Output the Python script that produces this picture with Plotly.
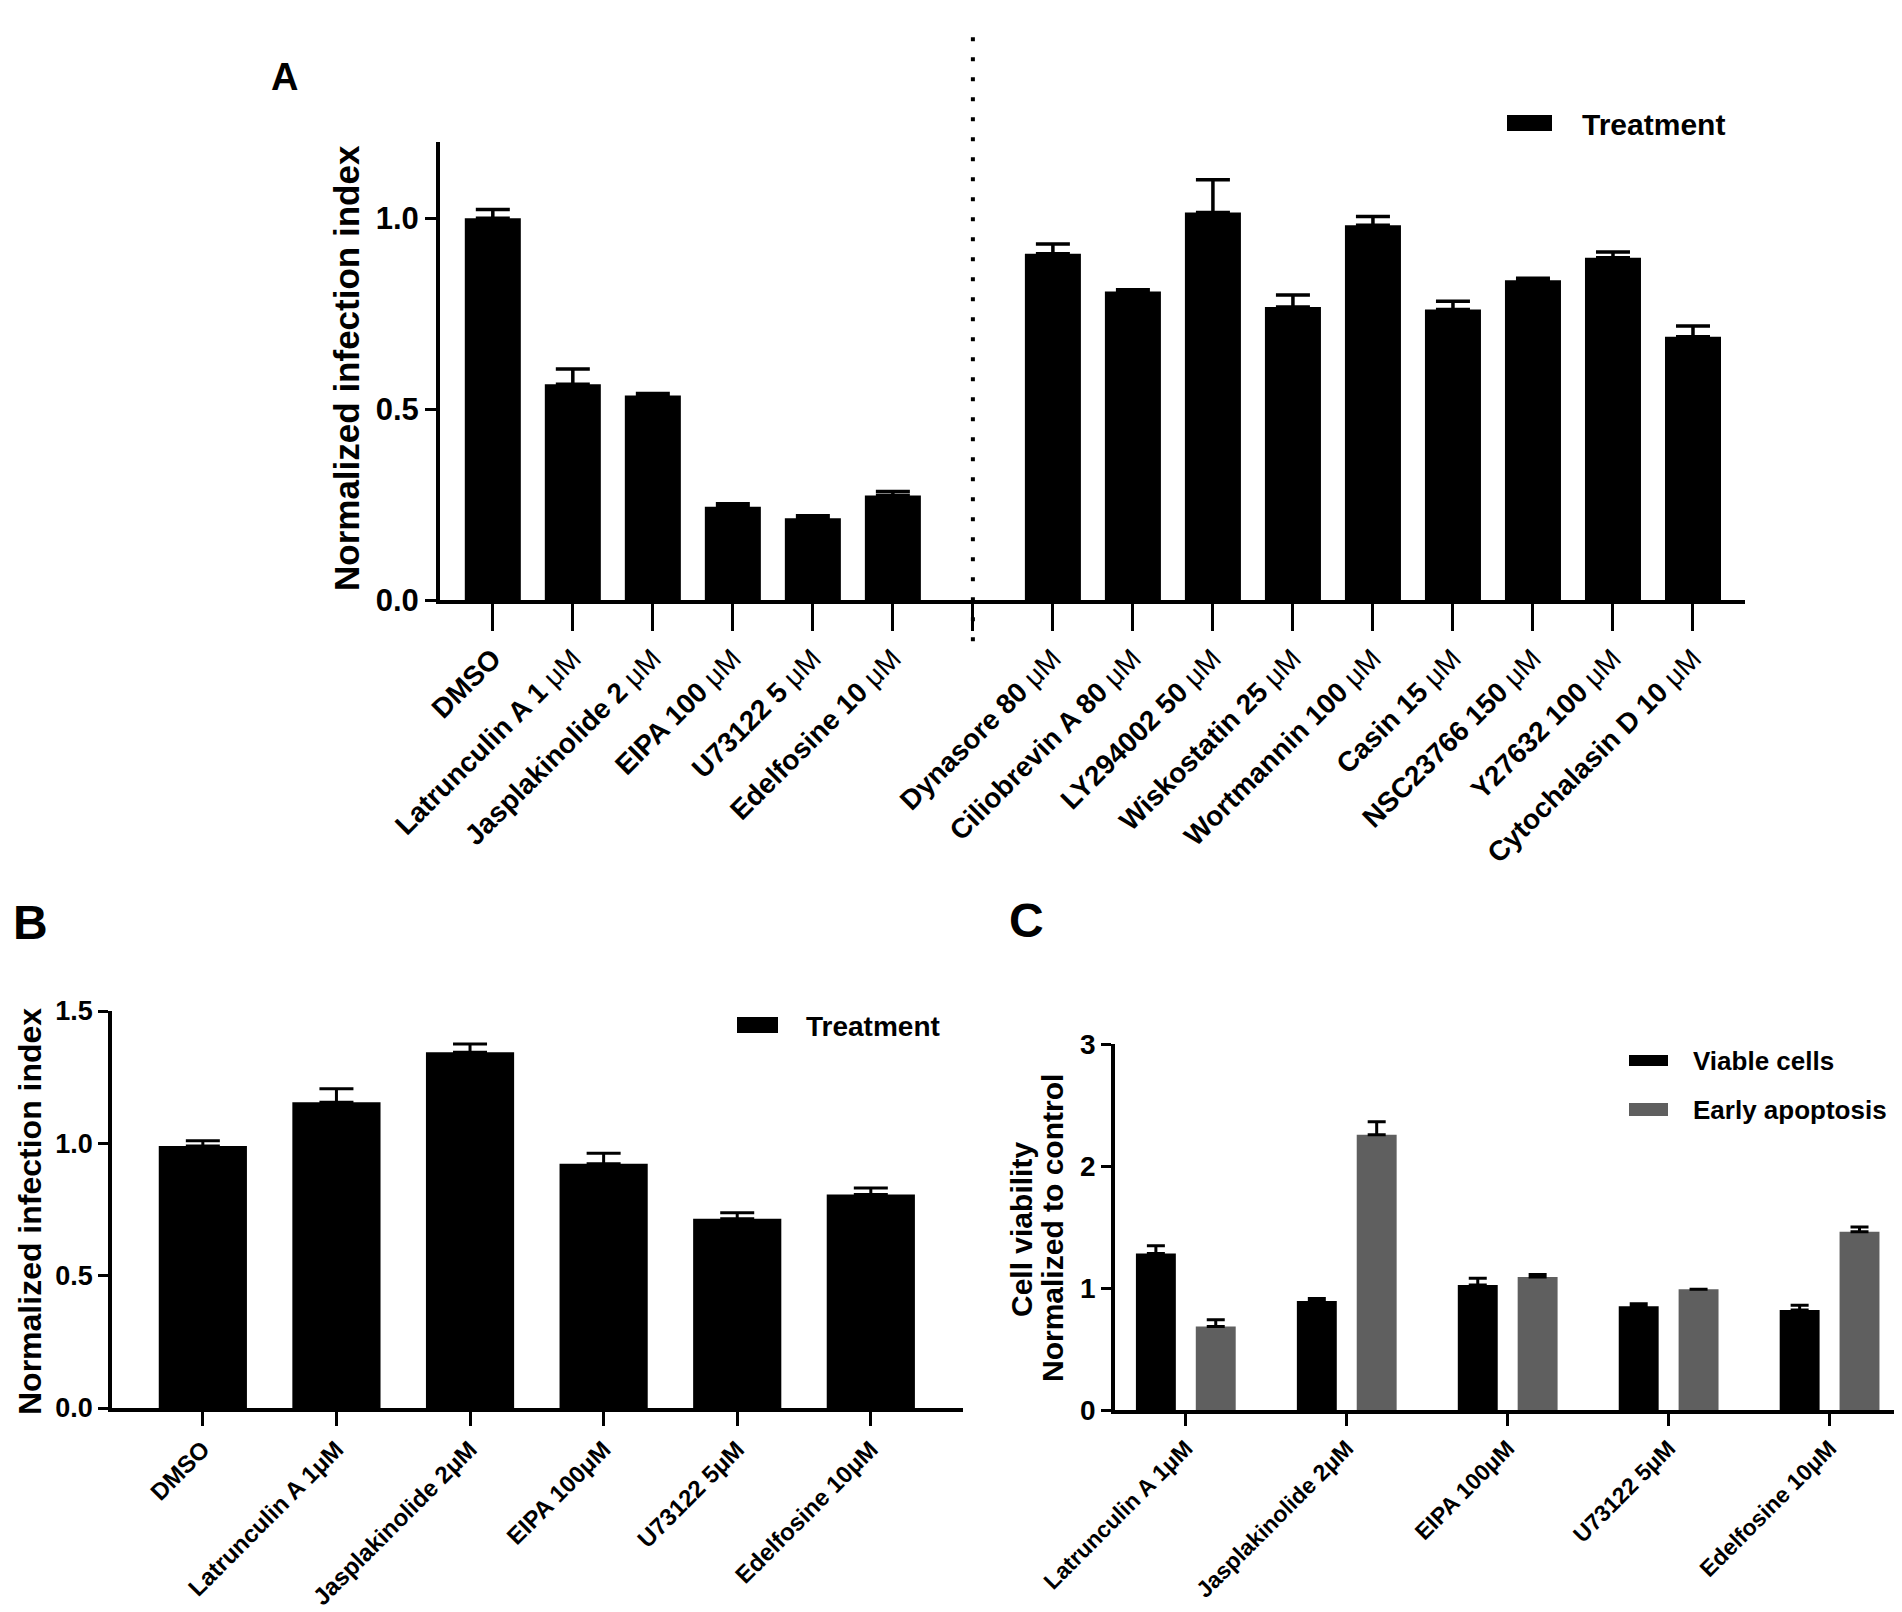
import plotly.graph_objects as go

# ---- data ----
# panel A: infection index after drug treatment (left block / right block)
a_left_drugs = ["DMSO", "Latrunculin A 1 μM", "Jasplakinolide 2 μM", "EIPA 100 μM",
                "U73122 5 μM", "Edelfosine 10 μM"]
a_left_vals = [1.00, 0.565, 0.536, 0.244, 0.214, 0.274]
a_left_err = [0.023, 0.040, 0.005, 0.008, 0.007, 0.010]

a_right_drugs = ["Dynasore 80 μM", "Ciliobrevin A 80 μM", "LY294002 50 μM",
                 "Wiskostatin 25 μM", "Wortmannin 100 μM", "Casin 15 μM",
                 "NSC23766 150 μM", "Y27632 100 μM", "Cytochalasin D 10 μM"]
a_right_vals = [0.907, 0.808, 1.015, 0.768, 0.982, 0.761, 0.838, 0.897, 0.690]
a_right_err = [0.026, 0.005, 0.086, 0.031, 0.023, 0.022, 0.005, 0.015, 0.028]

# panel B
b_drugs = ["DMSO", "Latrunculin A 1μM", "Jasplakinolide 2μM", "EIPA 100μM",
           "U73122 5μM", "Edelfosine 10μM"]
b_vals = [0.990, 1.155, 1.344, 0.923, 0.715, 0.807]
b_err = [0.020, 0.051, 0.031, 0.040, 0.023, 0.024]

# panel C
c_drugs = ["Latrunculin A 1μM", "Jasplakinolide 2μM", "EIPA 100μM", "U73122 5μM",
           "Edelfosine 10μM"]
c_viable = [1.283, 0.894, 1.024, 0.850, 0.819]
c_viable_err = [0.063, 0.019, 0.055, 0.020, 0.039]
c_early = [0.685, 2.256, 1.091, 0.990, 1.461]
c_early_err = [0.055, 0.106, 0.019, 0.0, 0.039]

W, H = 1902, 1612
SANS = "Liberation Sans, Arial, sans-serif"
GRAY = "#5f5f5f"


def px(x):
    return x / W


def py(y):
    return 1 - y / H


def mu_label(s):
    return s.replace("μM", "<span style='font-weight:normal'>μM</span>")


def bold(size):
    return dict(family=SANS, size=size, weight="bold", color="black")


gap = " "
a_cats = a_left_drugs + [gap] + a_right_drugs
a_vals = a_left_vals + [None] + a_right_vals
a_err = a_left_err + [0] + a_right_err
a_text = [mu_label(c) for c in a_left_drugs] + [""] + [mu_label(c) for c in a_right_drugs]

fig = go.Figure()

fig.add_trace(go.Bar(
    x=a_cats, y=a_vals, width=0.7, marker_color="black", marker_line_width=0,
    error_y=dict(type="data", symmetric=False, array=a_err, arrayminus=[0] * len(a_err),
                 color="black", thickness=3.5, width=17),
    xaxis="x", yaxis="y", showlegend=False))

fig.add_trace(go.Bar(
    x=b_drugs, y=b_vals, width=0.66, marker_color="black", marker_line_width=0,
    error_y=dict(type="data", symmetric=False, array=b_err, arrayminus=[0] * len(b_err),
                 color="black", thickness=3, width=17),
    xaxis="x2", yaxis="y2", showlegend=False))

fig.add_trace(go.Bar(
    x=c_drugs, y=c_viable, width=0.248, offset=-0.31, marker_color="black",
    marker_line_width=0,
    error_y=dict(type="data", symmetric=False, array=c_viable_err,
                 arrayminus=[0] * len(c_viable_err), color="black", thickness=3, width=9),
    xaxis="x3", yaxis="y3", showlegend=False))

fig.add_trace(go.Bar(
    x=c_drugs, y=c_early, width=0.248, offset=0.062, marker_color=GRAY,
    marker_line_width=0,
    error_y=dict(type="data", symmetric=False, array=c_early_err,
                 arrayminus=[0] * len(c_early_err), color="black", thickness=3, width=9),
    xaxis="x3", yaxis="y3", showlegend=False))

xcommon = dict(showgrid=False, zeroline=False, showline=True, linecolor="black",
               ticks="outside", tickcolor="black", tickangle=-45, color="black",
               automargin=False)
ycommon = dict(showgrid=False, zeroline=False, showline=True, linecolor="black",
               ticks="outside", tickcolor="black", color="black", automargin=False)

fig.update_layout(
    width=W, height=H,
    margin=dict(l=0, r=0, t=0, b=0, autoexpand=False),
    paper_bgcolor="white", plot_bgcolor="white",
    barmode="overlay",
    xaxis=dict(xcommon, domain=[px(432), px(1737)], anchor="y", type="category",
               range=[-0.66, 15.65], tickvals=a_cats, ticktext=a_text,
               linewidth=4, tickwidth=3, ticklen=27, tickfont=bold(28)),
    yaxis=dict(ycommon, domain=[py(592), py(134)], anchor="x", range=[0, 1.2],
               tickvals=[0, 0.5, 1.0], ticktext=["0.0", "0.5", "1.0"],
               linewidth=4, tickwidth=3, ticklen=11, tickfont=bold(31)),
    xaxis2=dict(xcommon, domain=[px(104), px(955)], anchor="y2", type="category",
                range=[-0.68, 5.69], linewidth=3.5, tickwidth=3, ticklen=14,
                tickfont=bold(24)),
    yaxis2=dict(ycommon, domain=[py(1400), py(1003)], anchor="x2", range=[0, 1.5],
                tickvals=[0, 0.5, 1.0, 1.5], ticktext=["0.0", "0.5", "1.0", "1.5"],
                linewidth=3.5, tickwidth=3, ticklen=10, tickfont=bold(27)),
    xaxis3=dict(xcommon, domain=[px(1107), px(1894)], anchor="y3", type="category",
                range=[-0.44, 4.45], linewidth=3.5, tickwidth=3, ticklen=12,
                tickfont=bold(23)),
    yaxis3=dict(ycommon, domain=[py(1402), py(1036)], anchor="x3", range=[0, 3],
                tickvals=[0, 1, 2, 3], linewidth=3.5, tickwidth=3, ticklen=10,
                tickfont=bold(28)),
)

# dotted divider between the two drug groups in panel A
fig.add_shape(type="line", xref="x", yref="y domain",
              x0=len(a_left_drugs), x1=len(a_left_drugs), y0=-0.09, y1=1.25,
              line=dict(color="black", width=4, dash="4px,16px"))

# legend keys
legend_keys = [
    (1499, 1544, 107, 123, "black", "Treatment", 1572, 116, 30),
    (729, 770, 1009, 1025, "black", "Treatment", 796, 1018, 28),
    (1621, 1660, 1047, 1058, "black", "Viable cells", 1683, 1053, 26),
    (1621, 1660, 1095, 1108, GRAY, "Early apoptosis", 1683, 1102, 26),
]
for x0, x1, y0, y1, col, label, tx, ty, fs in legend_keys:
    fig.add_shape(type="rect", xref="paper", yref="paper",
                  x0=px(x0), x1=px(x1), y0=py(y1), y1=py(y0),
                  fillcolor=col, line_width=0)
    fig.add_annotation(x=px(tx), y=py(ty), xref="paper", yref="paper", text=label,
                       showarrow=False, xanchor="left", yanchor="middle", font=bold(fs))

# axis titles
titles = [
    ("Normalized infection index", 338, 360, 35),
    ("Normalized infection index", 22, 1204, 32),
    ("Cell viability", 1013, 1222, 30),
    ("Normalized to control", 1044, 1220, 30),
]
for text, x, y, fs in titles:
    fig.add_annotation(x=px(x), y=py(y), xref="paper", yref="paper", text=text,
                       showarrow=False, textangle=-90, xanchor="center", yanchor="middle",
                       font=bold(fs))

# panel letters
letters = [("A", 276, 69, 38), ("B", 22, 914, 48), ("C", 1018, 912, 48)]
for text, x, y, fs in letters:
    fig.add_annotation(x=px(x), y=py(y), xref="paper", yref="paper", text=text,
                       showarrow=False, xanchor="center", yanchor="middle", font=bold(fs))

fig.write_html("out.html")
